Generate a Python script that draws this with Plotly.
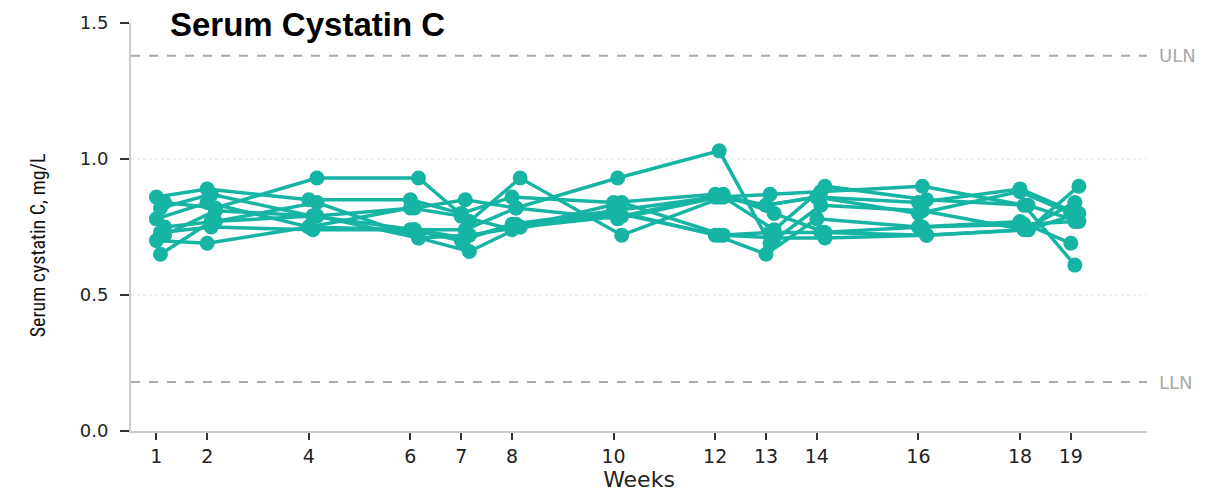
import plotly.graph_objects as go

weeks = [1, 2, 4, 6, 7, 8, 10, 12, 13, 14, 16, 18, 19]
week_labels = [str(w) for w in weeks]

patients = {
    "P1": [0.86, 0.89, 0.85, 0.85, 0.80, 0.86, 0.84, 0.87, 0.83, 0.86, 0.84, 0.89, 0.81],
    "P2": [0.84, 0.82, 0.93, 0.93, 0.77, 0.93, 0.72, 0.86, 0.74, 0.90, 0.85, 0.83, 0.77],
    "P3": [0.82, 0.87, 0.79, 0.82, 0.85, 0.82, 0.93, 1.03, 0.69, 0.83, 0.81, 0.74, 0.84],
    "P4": [0.78, 0.84, 0.75, 0.74, 0.70, 0.76, 0.81, 0.72, 0.65, 0.78, 0.75, 0.77, 0.69],
    "P5": [0.75, 0.77, 0.84, 0.71, 0.66, 0.75, 0.79, 0.87, 0.80, 0.73, 0.72, 0.74, 0.90],
    "P6": [0.73, 0.75, 0.74, 0.74, 0.74, 0.82, 0.78, 0.86, 0.87, 0.88, 0.90, 0.83, 0.61],
    "P7": [0.72, 0.81, 0.79, 0.71, 0.72, 0.75, 0.84, 0.72, 0.71, 0.71, 0.72, 0.74, 0.80],
    "P8": [0.70, 0.69, 0.75, 0.82, 0.79, 0.74, 0.81, 0.86, 0.83, 0.86, 0.80, 0.88, 0.80],
    "P9": [0.65, 0.77, 0.79, 0.74, 0.71, 0.76, 0.80, 0.72, 0.73, 0.73, 0.75, 0.76, 0.77],
}
jitter = {"P1": 0.0, "P2": 0.16, "P3": 0.08, "P4": 0.0, "P5": 0.16,
          "P6": 0.08, "P7": 0.16, "P8": 0.0, "P9": 0.08}

ULN = 1.38
LLN = 0.18
y_ticks = [0.0, 0.5, 1.0, 1.5]
grid_vals = [0.5, 1.0]

teal = "#16b4a3"

fig = go.Figure()
for name, vals in patients.items():
    fig.add_trace(go.Scatter(
        x=[w + jitter[name] for w in weeks], y=vals, mode="lines+markers",
        line=dict(color=teal, width=3.5),
        marker=dict(color=teal, size=15),
        name=name, showlegend=False, cliponaxis=False,
    ))

for g in grid_vals:
    fig.add_shape(type="line", xref="paper", x0=0, x1=1, yref="y", y0=g, y1=g,
                  line=dict(color="#e2e2e2", width=1.2, dash="dot"), layer="below")

for v, lab in [(ULN, "ULN"), (LLN, "LLN")]:
    fig.add_shape(type="line", xref="paper", x0=0, x1=1, yref="y", y0=v, y1=v,
                  line=dict(color="#aaaaaa", width=2, dash="dash"), layer="below")
    fig.add_annotation(xref="paper", x=1, yref="y", y=v, text=lab, showarrow=False,
                       xanchor="left", xshift=10, yanchor="middle",
                       font=dict(family="DejaVu Sans", size=18, color="#aaaaaa"))

# y-axis title as a rotated annotation (sits slightly below the plot centre, as in the reference)
fig.add_annotation(xref="paper", x=0, xshift=-93, yref="paper", y=0.455,
                   text="Serum cystatin C, mg/L", textangle=-90, showarrow=False,
                   xanchor="center", yanchor="middle",
                   font=dict(family="Liberation Sans Narrow, Roboto Condensed, Liberation Sans",
                             size=20, color="#111111"))

fig.update_layout(
    width=1224, height=492,
    margin=dict(l=123, r=85, t=15, b=69),
    paper_bgcolor="white", plot_bgcolor="white",
    title=dict(text="<b>Serum Cystatin C</b>", x=162 / 1224, xanchor="left",
               y=1 - 16 / 492, yanchor="middle", xref="container", yref="container",
               font=dict(family="Liberation Sans, Arial", size=33, color="black")),
    xaxis=dict(range=[0.5, 20.5], tickvals=weeks, ticktext=week_labels,
               showgrid=False, zeroline=False, automargin=False,
               showline=True, linecolor="#cccccc", linewidth=2,
               ticks="outside", ticklen=7, tickwidth=2, tickcolor="#333333",
               tickfont=dict(family="DejaVu Sans", size=19, color="#222222"),
               title=dict(text="Weeks", standoff=2,
                          font=dict(family="DejaVu Sans", size=22, color="#222222"))),
    yaxis=dict(range=[0, 1.5], tickvals=y_ticks, tickformat=".1f",
               showgrid=False, zeroline=False, automargin=False,
               showline=True, linecolor="#cccccc", linewidth=2,
               ticks="outside", ticklen=9, tickwidth=2, tickcolor="#333333",
               ticklabelstandoff=8,
               tickfont=dict(family="DejaVu Sans", size=18, color="#222222")),
)

fig.write_html("out.html")
